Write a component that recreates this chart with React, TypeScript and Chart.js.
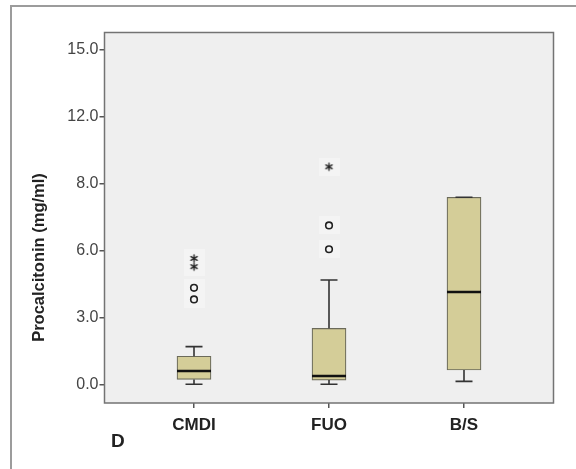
import React, { useEffect, useRef } from "react";
import { Chart, registerables } from "chart.js";

Chart.register(...registerables);

const categories = ["CMDI", "FUO", "B/S"];
const categoryPositions = [1, 2, 3];
const whiskerMin = [0.0, 0.0, 0.13];
const q1 = [0.22, 0.19, 0.64];
const median = [0.6, 0.37, 4.14];
const q3 = [1.26, 2.51, 8.39];
const whiskerMax = [1.69, 4.68, 8.39];
const circleOutliers = [[3.81, 4.33], [6.06, 7.13], []];
const starOutliers = [[5.28, 5.65], [9.76], []];
const yTickValues = [0, 3, 6, 9, 12, 15];
const yTickLabels = ["0.0", "3.0", "6.0", "8.0", "12.0", "15.0"];
const yAxisTitle = "Procalcitonin (mg/ml)";
const panelLabel = "D";

const FONT = "'Liberation Sans', Arial, Helvetica, sans-serif";
const BOX_W = 34;
const CAP_W = 17;

function makeStar(): HTMLCanvasElement {
  const c = document.createElement("canvas");
  c.width = 11;
  c.height = 11;
  const g = c.getContext("2d")!;
  g.strokeStyle = "#222";
  g.lineWidth = 1.4;
  g.lineCap = "round";
  const cx = 5.5, cy = 5.5, r = 3.6;
  for (let k = 0; k < 3; k++) {
    const a = Math.PI / 2 + (k * Math.PI) / 3;
    g.beginPath();
    g.moveTo(cx + r * Math.cos(a), cy + r * Math.sin(a));
    g.lineTo(cx - r * Math.cos(a), cy - r * Math.sin(a));
    g.stroke();
  }
  return c;
}

function makePatch(): HTMLCanvasElement {
  const c = document.createElement("canvas");
  c.width = 21;
  c.height = 18;
  const g = c.getContext("2d")!;
  g.fillStyle = "#f4f4f4";
  g.fillRect(0, 0, 21, 18);
  return c;
}

const frameAndLabels = {
  id: "frameAndLabels",
  beforeDraw(chart: any) {
    const { ctx, chartArea: a } = chart;
    ctx.save();
    ctx.fillStyle = "#efefef";
    ctx.fillRect(a.left, a.top, a.right - a.left, a.bottom - a.top);
    ctx.restore();
  },
  afterDraw(chart: any) {
    const { ctx, chartArea: a } = chart;
    ctx.save();
    ctx.strokeStyle = "#737373";
    ctx.lineWidth = 1.5;
    ctx.strokeRect(a.left, a.top, a.right - a.left, a.bottom - a.top);
    ctx.fillStyle = "#222";
    ctx.font = `bold 16.5px ${FONT}`;
    ctx.textAlign = "center";
    ctx.textBaseline = "middle";
    ctx.translate(39, 257.5);
    ctx.rotate(-Math.PI / 2);
    ctx.fillText(yAxisTitle, 0, 0);
    ctx.restore();
    ctx.save();
    ctx.fillStyle = "#222";
    ctx.font = `bold 19px ${FONT}`;
    ctx.textAlign = "left";
    ctx.textBaseline = "alphabetic";
    ctx.fillText(panelLabel, 111, 447);
    ctx.restore();
  },
};

const whiskerPlugin = {
  id: "whiskers",
  afterDatasetsDraw(chart: any) {
    const { ctx } = chart;
    const xs = chart.scales.x;
    const ys = chart.scales.y;
    ctx.save();
    categoryPositions.forEach((p, i) => {
      const cx = xs.getPixelForValue(p);
      const yMax = ys.getPixelForValue(whiskerMax[i]);
      const yQ3 = ys.getPixelForValue(q3[i]);
      const yQ1 = ys.getPixelForValue(q1[i]);
      const yMin = ys.getPixelForValue(whiskerMin[i]);
      const yMed = ys.getPixelForValue(median[i]);
      ctx.strokeStyle = "#333";
      ctx.lineWidth = 1.6;
      ctx.beginPath();
      ctx.moveTo(cx, yQ3);
      ctx.lineTo(cx, yMax);
      ctx.moveTo(cx - CAP_W / 2, yMax);
      ctx.lineTo(cx + CAP_W / 2, yMax);
      ctx.moveTo(cx, yQ1);
      ctx.lineTo(cx, yMin);
      ctx.moveTo(cx - CAP_W / 2, yMin);
      ctx.lineTo(cx + CAP_W / 2, yMin);
      ctx.stroke();
      ctx.strokeStyle = "#111";
      ctx.lineWidth = 2.6;
      ctx.beginPath();
      ctx.moveTo(cx - BOX_W / 2, yMed);
      ctx.lineTo(cx + BOX_W / 2, yMed);
      ctx.stroke();
    });
    ctx.restore();
  },
};

export default function App() {
  const ref = useRef<HTMLCanvasElement | null>(null);

  useEffect(() => {
    if (!ref.current) return;
    const star = makeStar();
    const patch = makePatch();

    const circlePts: { x: number; y: number }[] = [];
    const starPts: { x: number; y: number }[] = [];
    categoryPositions.forEach((p, i) => {
      circleOutliers[i].forEach((v) => circlePts.push({ x: p, y: v }));
      starOutliers[i].forEach((v) => starPts.push({ x: p, y: v }));
    });
    const allPts = [...circlePts, ...starPts];

    const chart = new Chart(ref.current, {
      type: "bar",
      data: {
        datasets: [
          {
            type: "bar",
            data: categoryPositions.map((p, i) => ({ x: p, y: [q1[i], q3[i]] })) as any,
            backgroundColor: "#d4cd98",
            borderColor: "#6b6a5a",
            borderWidth: 1.2,
            borderSkipped: false,
            barThickness: BOX_W,
            order: 2,
          } as any,
          {
            type: "line",
            data: allPts,
            showLine: false,
            pointStyle: patch,
            pointRadius: 6,
            order: 3,
          } as any,
          {
            type: "line",
            data: circlePts,
            showLine: false,
            pointStyle: "circle",
            pointRadius: 3.3,
            pointBorderWidth: 1.6,
            pointBorderColor: "#222",
            pointBackgroundColor: "rgba(0,0,0,0)",
            order: 0,
          } as any,
          {
            type: "line",
            data: starPts,
            showLine: false,
            pointStyle: star,
            pointRadius: 5,
            order: 0,
          } as any,
        ],
      },
      options: {
        responsive: false,
        animation: false,
        events: [],
        layout: { padding: { left: 0, top: 32.5, right: 22.5, bottom: 0 } },
        plugins: {
          legend: { display: false },
          tooltip: { enabled: false },
          title: { display: false },
        },
        scales: {
          x: {
            type: "linear",
            offset: false,
            min: 0.337,
            max: 3.663,
            afterBuildTicks: (s: any) => {
              s.ticks = categoryPositions.map((v) => ({ value: v }));
            },
            afterFit: (s: any) => {
              s.height = 66;
            },
            ticks: {
              callback: (_v: any, idx: number) => categories[idx],
              font: { family: FONT, size: 17, weight: "bold" },
              color: "#222",
              padding: 7,
              maxRotation: 0,
              autoSkip: false,
            },
            grid: {
              display: true,
              offset: false,
              drawOnChartArea: false,
              drawTicks: true,
              tickLength: 5,
              color: "#555",
              lineWidth: 1.5,
            },
            border: { display: false },
          },
          y: {
            type: "linear",
            min: -0.839,
            max: 15.785,
            afterBuildTicks: (s: any) => {
              s.ticks = yTickValues.map((v) => ({ value: v }));
            },
            afterFit: (s: any) => {
              s.width = 104.5;
            },
            ticks: {
              callback: (_v: any, idx: number) => yTickLabels[idx],
              font: { family: FONT, size: 16 },
              color: "#444",
              padding: 1,
              autoSkip: false,
            },
            grid: {
              display: true,
              drawOnChartArea: false,
              drawTicks: true,
              tickLength: 5,
              color: "#555",
              lineWidth: 1.5,
            },
            border: { display: false },
          },
        },
      } as any,
      plugins: [frameAndLabels, whiskerPlugin],
    });
    return () => chart.destroy();
  }, []);

  return (
    <div style={{ position: "fixed", left: 0, top: 0, width: 576, height: 469, background: "#fff" }}>
      <div
        style={{
          position: "absolute",
          left: 10,
          top: 5,
          width: 600,
          height: 500,
          borderLeft: "2px solid #9c9c9c",
          borderTop: "2px solid #9c9c9c",
          boxSizing: "border-box",
        }}
      />
      <canvas ref={ref} width={576} height={469} style={{ position: "absolute", left: 0, top: 0 }} />
    </div>
  );
}
